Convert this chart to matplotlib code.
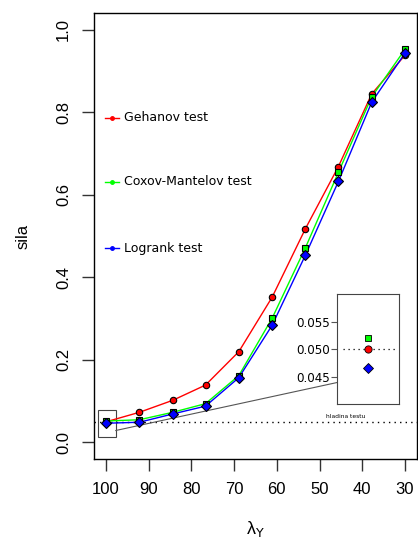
import matplotlib
matplotlib.use("Agg")
import matplotlib.pyplot as plt
from matplotlib.patches import Rectangle

# power of three tests vs lambda_Y
lam = [100, 92.2, 84.4, 76.7, 68.9, 61.1, 53.3, 45.6, 37.8, 30]
gehan = [0.050, 0.073, 0.102, 0.139, 0.220, 0.352, 0.518, 0.668, 0.844, 0.938]
cox = [0.052, 0.055, 0.073, 0.094, 0.162, 0.301, 0.472, 0.654, 0.837, 0.952]
logrank = [0.0466, 0.049, 0.069, 0.088, 0.157, 0.284, 0.454, 0.632, 0.824, 0.943]
names = ["Gehanov test", "Coxov-Mantelov test", "Logrank test"]
colors = ["#FF0000", "#00FF00", "#0000FF"]
markers = ["o", "s", "D"]
alpha_level = 0.05

arial = "Liberation Sans"
verdana = "DejaVu Sans"

fig = plt.figure(figsize=(4.18, 5.49), dpi=100)
ax = fig.add_axes([94 / 418, 90 / 549, 323 / 418, 446 / 549])

series = [gehan, cox, logrank]
msizes = [4.6, 4.4, 4.8]
for vals, col, mk, ms in zip(series, colors, markers, msizes):
    ax.plot(lam, vals, color=col, lw=1, zorder=2)
    ax.plot(lam, vals, ls="none", marker=mk, ms=ms, mfc=col, mec="black",
            mew=0.8, zorder=3)

ax.plot([102.8, 27.2], [alpha_level, alpha_level], color="black", lw=1,
        ls=(0, (1, 3)), zorder=1)

ax.set_xlim(102.8, 27.2)
ax.set_ylim(-0.04, 1.04)
ax.set_xticks(range(100, 29, -10))
ax.set_yticks([0.0, 0.2, 0.4, 0.6, 0.8, 1.0])
ax.set_yticklabels(["0.0", "0.2", "0.4", "0.6", "0.8", "1.0"], rotation=90,
                   va="center")
ax.tick_params(length=8.5, width=1, color="#333333", labelsize=12, pad=8)
for lab in ax.get_xticklabels() + ax.get_yticklabels():
    lab.set_fontfamily(arial)
for sp in ax.spines.values():
    sp.set_linewidth(1)

ax.set_ylabel("sila", family=arial, fontsize=12, labelpad=18)
ax.set_xlabel(r"λ$_{\mathrm{Y}}$", family=arial, fontsize=13, labelpad=16)

# legend written directly into the plot
leg_y = [0.786, 0.631, 0.470]
for y, col, name in zip(leg_y, colors, names):
    ax.plot([100.2, 96.9], [y, y], color=col, lw=1)
    ax.plot([98.5], [y], marker="o", ms=2.5, color=col)
    ax.text(95.7, y, name, family=verdana, fontsize=9, va="center",
            ha="left")

# zoom rectangle and connecting line
ax.add_patch(Rectangle((101.8, 0.014), -4.1, 0.064, fill=False,
                       ec="#444444", lw=0.8))
ax.plot([97.7, 46.0], [0.029, 0.145], color="#555555", lw=0.8)
ax.text(44.0, 0.064, "hladina testu", family=verdana, fontsize=4.3,
        ha="center", va="center")

# inset
axi = fig.add_axes([336.7 / 418, (549 - 404.3) / 549, 62.6 / 418, 110 / 549])
for vals, col, mk, ms in zip(series, colors, markers, [5.2, 5.0, 5.6]):
    axi.plot([1], [vals[0]], ls="none", marker=mk, ms=ms, mfc=col,
             mec="black", mew=0.6)
axi.plot([0.2, 1.85], [alpha_level, alpha_level], color="black", lw=0.9,
         ls=(0, (1, 3)), zorder=0)
axi.set_xlim(0, 2)
axi.set_ylim(0.0401, 0.0599)
axi.set_xticks([])
axi.set_yticks([0.045, 0.050, 0.055])
axi.set_yticklabels(["0.045", "0.050", "0.055"])
axi.tick_params(length=4, width=0.8, color="#555555", labelsize=8.6, pad=1)
for lab in axi.get_yticklabels():
    lab.set_fontfamily(verdana)
for sp in axi.spines.values():
    sp.set_linewidth(0.8)
    sp.set_color("#444444")

fig.savefig("out.png", dpi=100)
